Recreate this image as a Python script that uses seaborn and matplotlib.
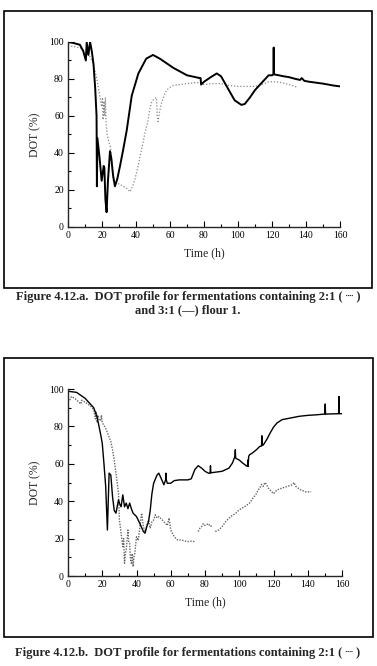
import matplotlib
matplotlib.use("Agg")
import matplotlib.pyplot as plt
import seaborn as sns
import pandas as pd
from matplotlib.patches import Rectangle
from matplotlib.ticker import MultipleLocator

# ---- Figure 4.12.a data (time h, DOT %) ----
a_solid_t = [0, 3, 7, 9, 10.5, 11, 12, 13, 14, 15, 16, 16.8, 17, 17.3, 18.5, 19.8, 21, 21.4,
             22, 22.7, 23.5, 24.7, 25.5, 26.5, 27.6, 29, 30.6, 32.5, 34.5, 37.5, 41.4, 46, 50,
             54, 58, 62, 66, 70, 75, 77.5, 78, 78.3, 80, 84, 87.5, 90, 94, 98, 102, 104, 107,
             110, 114, 118, 120, 120.8, 121, 121.2, 124, 126.6, 130, 134, 136.5, 137.5, 139,
             142, 146, 150, 156, 160]
a_solid_v = [100, 99.5, 98.5, 95, 90, 100, 93, 100, 95, 88, 75, 60, 22, 48, 38, 25, 33, 32,
             15, 8, 25, 41, 37, 28, 22, 26, 33, 42, 52, 71, 83, 91, 93,
             91, 88.5, 86, 84, 82, 81, 80.5, 80.5, 77, 78.5, 81, 83, 81.5, 75, 68.5, 66, 66.5, 70,
             74, 78, 82, 82, 82.5, 97, 82.5, 82, 81.5, 81, 80, 79.5, 80.5, 79,
             78.5, 78, 77.5, 76.5, 76]

a_dot_t = [0, 4, 8, 10, 13, 15, 17, 18.5, 19.8, 20.3, 20.6, 21.2, 21.6, 22, 22.4, 23, 24.3,
           25, 26.7, 28, 30.6, 32.5, 34.5, 36.5, 38, 39.4, 41, 42.4, 44, 45.3, 47, 47.8, 49,
           50, 51.2, 52, 52.5, 53, 54, 55, 57, 58, 60, 62, 66, 70, 74, 77.6, 80, 85, 90, 95,
           100, 105, 110, 114, 118, 122, 126, 130, 135]
a_dot_v = [98, 97.5, 96.5, 95, 92, 88, 80, 72, 65, 70, 58, 68, 60, 70, 56, 50, 45,
           43, 25, 24, 23, 22, 21, 19, 22, 26, 32, 38, 45, 51, 57, 62, 67,
           68.5, 69.5, 70, 60, 57, 63, 67, 72, 74, 75.5, 76.5, 77, 77.5, 78, 78, 77, 77.5, 77.5, 76.5,
           76, 76, 76, 77, 78.5, 78.5, 78, 77, 75.5]

# ---- Figure 4.12.b data ----
b_solid_t = [0, 5, 10, 15, 17, 19, 20, 21, 22, 23, 24, 25, 26, 27, 28, 29.5, 30, 31, 32, 33,
             34, 35, 36, 37, 38, 40, 42, 44, 45, 46, 47, 48, 49, 50, 52, 53, 54, 56, 57,
             57.2, 57.4, 58, 60, 62, 65, 70, 72, 74, 76, 78, 80, 82, 83, 83.2, 83.4, 86, 90,
             94, 96, 97.5, 97.7, 97.9, 100, 102, 104, 104.8, 105, 105.2, 105.5, 106, 108, 110,
             112, 113, 113.2, 113.4, 114, 116, 118, 120, 122, 125, 130, 135, 140, 145, 150,
             150.2, 150.4, 155, 158, 158.2, 158.4, 160]
b_solid_v = [98.8, 98.2, 95, 90, 85, 76, 71, 60, 48, 24.6, 55, 54, 42.5, 35, 33.6, 40.7, 39,
             37, 43.4, 37, 39, 36, 39, 36, 33.6, 31.8, 28, 23.8, 22.9, 26.4, 29, 35, 44, 49.6,
             54, 55, 53, 48.8, 51.4, 55, 51.4, 49.6, 49.6, 51, 51.4, 51.4, 52, 56.8, 59, 57.7,
             56, 55, 55, 59, 55.2, 55.5, 56, 57.7, 60.4, 64, 67.5, 63, 62, 60.4, 59, 58.6, 62,
             58.6, 64, 64.8, 66, 67.5, 69.3, 69.5, 75, 70, 70, 72.9, 76.4, 79.6, 81.8, 83.6,
             84.5, 85.4, 85.9, 86.2, 86.6, 92, 86.6, 86.7, 86.8, 96, 86.8, 86.8]

b_dot_t = [1, 2, 4, 7.5, 8, 10, 13, 15, 16, 16.5, 17, 17.5, 18, 19, 19.5, 20, 22, 25, 26, 27,
           28, 29, 29.5, 30, 31, 32, 32.5, 33, 33.5, 34, 35, 35.5, 36, 36.5, 37, 37.5, 38,
           38.5, 39, 40, 41, 42, 43, 44, 45, 46, 47, 48, 49, 50, 51, 52, 53, 55, 57, 58, 59,
           60, 62, 64, 66, 68, 70, 72, 74,
           76, 77, 78, 79, 80, 81, 82, 83, 84.5,
           86, 88, 90, 92, 95, 98, 100, 103, 106, 108, 110, 111, 112, 113, 114, 115, 116,
           117, 118, 119, 120, 122, 125, 128, 131, 132, 133, 136, 139, 142]
b_dot_v = [94, 96, 95, 92, 94, 93, 91, 89, 84, 88, 82, 86, 84, 83, 86, 82, 79, 72, 67.5, 62,
           55, 48, 44, 30, 23, 15.7, 20, 6.8, 12, 14, 24.6, 18, 17.5, 9, 6.8, 12, 5, 10, 12,
           21, 19, 26.4, 33.6, 26.4, 23.8, 27, 30, 25.5, 29, 30, 32.7, 31, 31.8, 30, 28, 27,
           31, 24.6, 21, 19.3, 19.3, 18.8, 18.4, 18.6, 18.4,
           23.8, 25.5, 26.4, 28, 27, 27.5, 28, 26.5, 27,
           23.8, 24.6, 26.4, 29, 31.8, 33.6, 35.4, 37, 39, 41.6, 44, 46, 47, 49, 47.9, 50,
           48.8, 47, 46, 45, 44, 46, 47, 47.9, 48.8, 50, 47.9, 46, 45, 45]
b_dot_seg_breaks = [75, 85.5]

caption_a1 = "Figure 4.12.a.  DOT profile for fermentations containing 2:1 ( \u2508 )"
caption_a2 = "and 3:1 (\u2014) flour 1."
caption_b1 = "Figure 4.12.b.  DOT profile for fermentations containing 2:1 ( \u2508 )"

sns.set_style("ticks")
plt.rcParams["font.family"] = ["Liberation Serif", "DejaVu Sans"]

W, H = 377, 666
fig = plt.figure(figsize=(W / 100, H / 100), dpi=100)


def px_axes(x0, x1, y_top, y_bot):
    return fig.add_axes([x0 / W, 1 - y_bot / H, (x1 - x0) / W, (y_bot - y_top) / H])


def style_axes(ax):
    ax.set_xlim(0, 160)
    ax.set_ylim(0, 100)
    ax.xaxis.set_major_locator(MultipleLocator(20))
    ax.xaxis.set_minor_locator(MultipleLocator(10))
    ax.yaxis.set_major_locator(MultipleLocator(20))
    ax.yaxis.set_minor_locator(MultipleLocator(10))
    ax.tick_params(which="both", direction="in", width=0.8, colors="black", labelsize=7)
    ax.tick_params(axis="x", pad=3)
    ax.tick_params(axis="y", pad=3)
    ax.tick_params(which="major", length=4)
    ax.tick_params(which="minor", length=2.5)
    for s in ["top", "right"]:
        ax.spines[s].set_visible(False)
    for s in ["left", "bottom"]:
        ax.spines[s].set_linewidth(1.0)
        ax.spines[s].set_clip_on(False)
    ax.set_xlabel("Time (h)", fontsize=8.5, labelpad=5)
    ax.set_ylabel("DOT (%)", fontsize=8.5, labelpad=6)
    ax.set_facecolor("white")


# panel a
ax1 = px_axes(68, 340, 42, 227)
sns.lineplot(x=a_dot_t, y=a_dot_v, ax=ax1, color="#888888", lw=0.9, ls=(0, (1, 1.5)),
             estimator=None, sort=False)
sns.lineplot(x=a_solid_t, y=a_solid_v, ax=ax1, color="black", lw=1.4,
             estimator=None, sort=False)
style_axes(ax1)

# panel b
seg = [sum(t > b for b in b_dot_seg_breaks) for t in b_dot_t]
df_b = pd.DataFrame({"t": b_dot_t, "v": b_dot_v, "seg": seg})
ax2 = px_axes(68, 342, 389, 576)
sns.lineplot(data=df_b, x="t", y="v", units="seg", ax=ax2, color="#666666", lw=1.0,
             ls=(0, (1, 1)), estimator=None, sort=False)
sns.lineplot(x=b_solid_t, y=b_solid_v, ax=ax2, color="black", lw=1.0,
             estimator=None, sort=False)
style_axes(ax2)

# boxes around each panel
for (x0, y0, x1, y1) in [(4, 11, 372, 288), (4, 358, 373, 637)]:
    fig.patches.append(Rectangle((x0 / W, 1 - y1 / H), (x1 - x0) / W, (y1 - y0) / H,
                                 transform=fig.transFigure, fill=False, lw=1.2,
                                 edgecolor="black"))

cap = dict(ha="center", va="center", fontsize=9, fontweight="bold")
fig.text(188 / W, 1 - 297 / H, caption_a1, **cap)
fig.text(188 / W, 1 - 310 / H, caption_a2, **cap)
fig.text(188 / W, 1 - 653 / H, caption_b1, **cap)

fig.savefig("out.png", dpi=100, facecolor="white")
